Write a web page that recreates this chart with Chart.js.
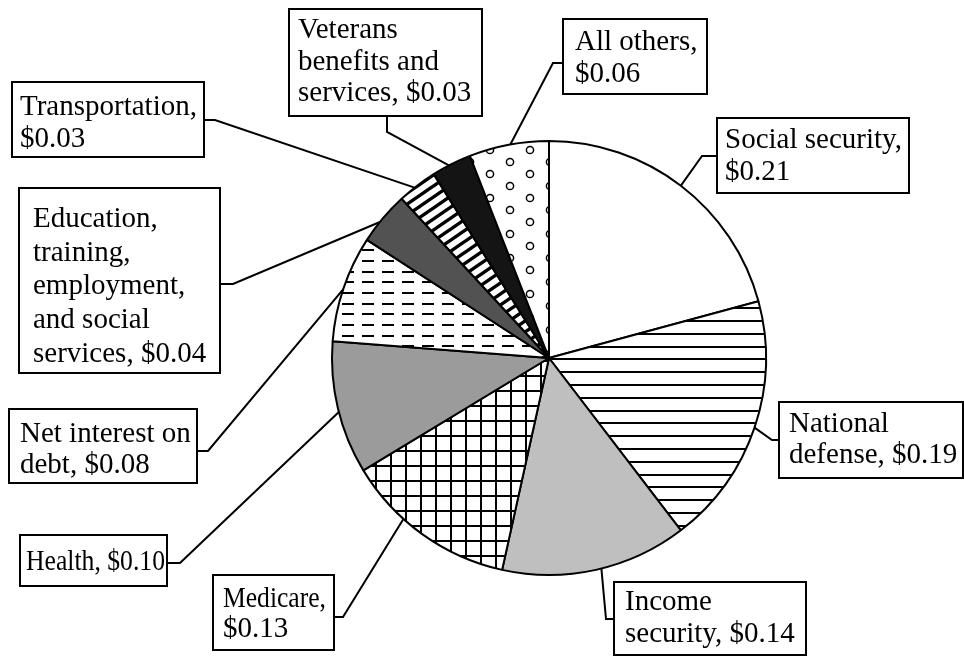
<!DOCTYPE html>
<html>
<head>
<meta charset="utf-8">
<script src="https://cdn.jsdelivr.net/npm/chart.js@4"></script>
<style>
  html, body { margin: 0; padding: 0; background: #fff; }
  canvas { display: block; }
</style>
</head>
<body>
<canvas id="chart" width="964" height="656" style="width:964px;height:656px"></canvas>
<script>
const categories = [
  "Social security",
  "National defense",
  "Income security",
  "Medicare",
  "Health",
  "Net interest on debt",
  "Education, training, employment, and social services",
  "Transportation",
  "Veterans benefits and services",
  "All others",
];
const amounts = [0.21, 0.19, 0.14, 0.13, 0.1, 0.08, 0.04, 0.03, 0.03, 0.06];

// how each label is broken into lines, {v} is the dollar amount
const labelText = [
  "Social security,\n{v}",
  "National\ndefense, {v}",
  "Income\nsecurity, {v}",
  "Medicare,\n{v}",
  "Health, {v}",
  "Net interest on\ndebt, {v}",
  "Education,\ntraining,\nemployment,\nand social\nservices, {v}",
  "Transportation,\n{v}",
  "Veterans\nbenefits and\nservices, {v}",
  "All others,\n{v}",
];

// label box layout (positions only); mw = max text width
const boxes = [
  { x: 717, y: 118, w: 192, h: 75, tx: 725, ty: 148, lh: 32, from: [717, 156], elbow: [702, 156], f: 0.5 },
  { x: 779, y: 402, w: 184, h: 76, tx: 789, ty: 432, lh: 31, from: [779, 440], elbow: [772, 440], f: 0.5 },
  { x: 614, y: 582, w: 192, h: 73, tx: 625, ty: 610, lh: 32, from: [614, 619], elbow: [606, 619], f: 0.47 },
  { x: 213, y: 575, w: 121, h: 75, tx: 223, ty: 607, lh: 30, from: [334, 617], elbow: [343, 617], f: 0.64, mw: 103 },
  { x: 20, y: 535, w: 147, h: 51, tx: 26, ty: 570, lh: 32, from: [167, 563], elbow: [180, 563], f: 0.47, mw: 139 },
  { x: 9, y: 409, w: 188, h: 74, tx: 20, ty: 442, lh: 31, from: [197, 451], elbow: [208, 451], f: 0.49 },
  { x: 19, y: 188, w: 201, h: 185, tx: 33, ty: 227, lh: 33.7, from: [220, 284], elbow: [233, 284], f: 0.41 },
  { x: 12, y: 82, w: 192, h: 75, tx: 20, ty: 115, lh: 32, from: [204, 120], elbow: [215, 120], f: 0.42 },
  { x: 289, y: 9, w: 193, h: 107, tx: 298, ty: 38, lh: 31.7, from: [387, 116], elbow: [387, 132], f: 0.43 },
  { x: 563, y: 19, w: 144, h: 75, tx: 575, ty: 50, lh: 31.7, from: [563, 63], elbow: [553, 63], f: 0.52 },
];

const ctx = document.getElementById("chart").getContext("2d");

const makePattern = (w, h, draw) => {
  const c = document.createElement("canvas");
  c.width = w;
  c.height = h;
  const g = c.getContext("2d");
  g.fillStyle = "#fff";
  g.fillRect(0, 0, w, h);
  g.strokeStyle = "#000";
  g.fillStyle = "#000";
  draw(g);
  return ctx.createPattern(c, "repeat");
};

// horizontal stripes
const stripes = makePattern(8, 128, (g) => {
  for (let i = 0; i < 10; i++) {
    g.fillRect(0, Math.round(i * 12.8), 8, 2);
  }
});

// square grid
const grid = makePattern(15, 15, (g) => {
  g.fillRect(0, 0, 15, 2);
  g.fillRect(0, 0, 2, 15);
});

// dashed rows
const dashes = makePattern(20, 32, (g) => {
  [4, 14.7, 25.3].forEach((y) => g.fillRect(2, Math.round(y), 12, 2));
});

// slanted thick stripes
const diagonal = makePattern(16, 11, (g) => {
  g.lineWidth = 3.4;
  g.beginPath();
  [-11, 0, 11].forEach((k) => {
    g.moveTo(-2, 11 + k + 2 * 11 / 16);
    g.lineTo(18, k - 2 * 11 / 16);
  });
  g.stroke();
});

// small rings
const rings = makePattern(40, 24, (g) => {
  g.lineWidth = 1.5;
  [[10, 6], [30, 18]].forEach(([x, y]) => {
    g.beginPath();
    g.arc(x, y, 3.6, 0, Math.PI * 2);
    g.stroke();
  });
});

const fills = [
  "#ffffff",
  stripes,
  "#bfbfbf",
  grid,
  "#9b9b9b",
  dashes,
  "#525252",
  diagonal,
  "#141414",
  rings,
];

const labelPlugin = {
  id: "boxLabels",
  afterDraw: (chart) => {
    const c = chart.ctx;
    const arcs = chart.getDatasetMeta(0).data;
    c.save();
    c.lineWidth = 2;
    c.strokeStyle = "#000";
    arcs.forEach((arc, i) => {
      const b = boxes[i];
      const p = arc.getProps(["x", "y", "startAngle", "endAngle", "outerRadius"], true);
      const a = p.startAngle + b.f * (p.endAngle - p.startAngle);
      const ax = p.x + Math.cos(a) * p.outerRadius;
      const ay = p.y + Math.sin(a) * p.outerRadius;
      c.beginPath();
      c.moveTo(b.from[0], b.from[1]);
      c.lineTo(b.elbow[0], b.elbow[1]);
      c.lineTo(ax, ay);
      c.stroke();
    });
    c.font = "29px 'Liberation Serif', 'Times New Roman', serif";
    c.textBaseline = "alphabetic";
    amounts.forEach((v, i) => {
      const b = boxes[i];
      c.fillStyle = "#fff";
      c.fillRect(b.x, b.y, b.w, b.h);
      c.strokeRect(b.x, b.y, b.w, b.h);
      c.fillStyle = "#000";
      const lines = labelText[i].replace("{v}", "$" + v.toFixed(2)).split("\n");
      lines.forEach((line, k) => {
        if (b.mw) {
          c.fillText(line, b.tx, b.ty + k * b.lh, b.mw);
        } else {
          c.fillText(line, b.tx, b.ty + k * b.lh);
        }
      });
    });
    c.restore();
  },
};

new Chart(ctx, {
  type: "pie",
  data: {
    labels: categories,
    datasets: [
      {
        data: amounts,
        backgroundColor: fills,
        borderColor: "#000",
        borderWidth: 2,
      },
    ],
  },
  options: {
    responsive: false,
    animation: false,
    devicePixelRatio: 1,
    layout: {
      padding: { left: 331, right: 197, top: 140, bottom: 80 },
    },
    plugins: {
      legend: { display: false },
      tooltip: { enabled: false },
    },
  },
  plugins: [labelPlugin],
});
</script>
</body>
</html>
